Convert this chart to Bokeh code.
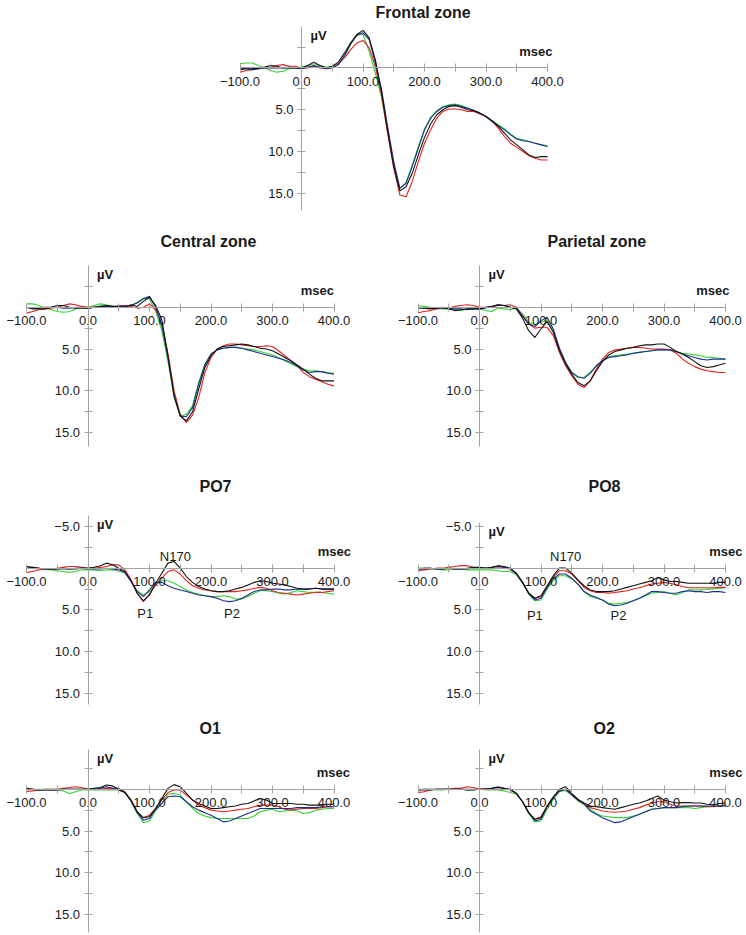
from bokeh.plotting import figure
from bokeh.models import Range1d, FixedTicker, Label, LinearAxis, CustomJSTickFormatter, Grid
from bokeh.layouts import column, row
from bokeh.embed import file_html
from bokeh.resources import INLINE

# ---------------- data ----------------
TIME_MS = list(range(-100, 410, 10))   # -100 ... 400 ms, 51 samples

FRONTAL_BLACK = [0.2, 0.1, 0.1, 0.0, -0.1, -0.3, -0.2, 0.0, 0.0, 0.0,
                 0.0, -0.3, -0.7, -0.3, 0.0, -0.2, -0.7, -1.8, -3.0, -4.0,
                 -4.5, -3.6, -1.0, 2.8, 7.5, 11.8, 14.7, 14.2, 12.6, 10.4,
                 8.3, 6.7, 5.6, 5.0, 4.6, 4.5, 4.7, 5.0, 5.1, 5.4,
                 5.8, 6.3, 7.0, 7.8, 8.6, 9.2, 9.8, 10.4, 10.7, 10.6, 10.6]
FRONTAL_RED = [0.5, 0.3, 0.2, 0.1, 0.0, -0.1, -0.3, -0.4, -0.2, -0.2,
               0.0, 0.0, -0.2, 0.0, 0.0, -0.1, -0.5, -1.2, -2.2, -3.0,
               -3.3, -2.4, -0.2, 3.2, 7.8, 12.0, 15.2, 15.4, 13.6, 11.2,
               9.0, 7.4, 6.0, 5.2, 4.9, 4.9, 5.0, 5.2, 5.2, 5.5,
               5.8, 6.4, 7.2, 8.2, 9.0, 9.5, 10.0, 10.5, 10.8, 11.0, 11.0]
FRONTAL_GREEN = [-0.5, -0.6, -0.6, -0.3, 0.0, 0.3, 0.5, 0.4, 0.1, 0.0,
                 -0.1, -0.3, -0.5, -0.3, -0.1, -0.2, -0.4, -1.4, -2.8, -4.0,
                 -4.0, -2.0, 0.6, 3.5, 7.6, 11.6, 14.4, 13.7, 11.6, 9.4,
                 7.3, 5.9, 5.1, 4.6, 4.4, 4.3, 4.5, 4.8, 5.1, 5.4,
                 5.8, 6.3, 6.8, 7.3, 7.9, 8.4, 8.6, 8.8, 9.0, 9.2, 9.3]
FRONTAL_BLUE = [0.0, 0.1, 0.2, 0.1, 0.0, 0.0, 0.0, 0.0, -0.1, 0.0,
                0.1, -0.1, -0.3, -0.1, 0.1, 0.0, -0.4, -1.5, -2.9, -3.9,
                -4.2, -3.4, -0.6, 2.5, 7.0, 11.2, 14.4, 13.8, 11.8, 9.6,
                7.4, 6.0, 5.2, 4.7, 4.5, 4.4, 4.6, 4.8, 5.1, 5.4,
                5.8, 6.4, 6.9, 7.4, 8.0, 8.5, 8.7, 8.8, 9.0, 9.2, 9.4]

CENTRAL_BLACK = [0.0, 0.2, 0.2, 0.2, 0.0, -0.2, -0.2, 0.0, 0.1, 0.1,
                 0.1, 0.0, -0.1, -0.2, -0.1, 0.0, 0.0, -0.3, -0.1, -0.7,
                 -1.2, -0.2, 1.5, 5.8, 10.6, 13.0, 13.6, 12.5, 9.8, 7.2,
                 5.8, 5.0, 4.7, 4.6, 4.5, 4.4, 4.5, 4.7, 4.9, 5.0,
                 5.2, 5.6, 6.0, 6.4, 6.9, 7.4, 8.0, 8.5, 8.8, 8.8, 8.8]
CENTRAL_RED = [0.7, 0.5, 0.3, 0.2, 0.1, 0.0, -0.2, -0.4, -0.3, -0.1,
               0.0, 0.0, 0.0, 0.0, 0.0, -0.2, -0.2, -0.1, 0.1, 0.0,
               -0.4, 0.3, 1.9, 5.5, 10.0, 12.8, 13.8, 12.9, 10.8, 7.8,
               6.0, 5.0, 4.6, 4.4, 4.4, 4.5, 4.6, 4.7, 4.7, 4.6,
               4.7, 5.2, 5.8, 6.4, 7.0, 7.8, 8.3, 8.6, 8.9, 9.2, 9.4]
CENTRAL_GREEN = [-0.4, -0.4, -0.2, 0.1, 0.3, 0.5, 0.6, 0.5, 0.2, 0.0,
                 0.0, -0.2, -0.4, -0.3, -0.1, -0.1, -0.2, -0.2, -0.6, -1.1,
                 -1.0, 0.5, 2.8, 6.5, 10.8, 13.0, 12.8, 11.8, 9.0, 6.8,
                 5.6, 5.1, 4.9, 4.8, 4.8, 4.9, 5.0, 5.1, 5.3, 5.5,
                 5.7, 6.0, 6.4, 6.8, 7.1, 7.4, 7.6, 7.6, 7.7, 7.8, 7.9]
CENTRAL_BLUE = [0.0, 0.1, 0.1, 0.0, 0.0, 0.0, 0.1, 0.1, 0.0, 0.0,
                0.1, 0.0, -0.1, -0.1, -0.1, -0.1, -0.1, -0.2, -0.5, -1.0,
                -1.3, 0.0, 2.2, 6.0, 10.5, 13.0, 13.1, 12.0, 9.2, 6.9,
                5.6, 5.1, 4.9, 4.8, 4.8, 4.9, 5.1, 5.3, 5.5, 5.7,
                5.9, 6.1, 6.3, 6.6, 7.0, 7.5, 7.8, 7.7, 7.7, 7.9, 8.0]

PARIETAL_BLACK = [0.0, 0.1, 0.2, 0.1, 0.0, 0.2, 0.4, 0.3, 0.2, 0.2,
                  0.2, 0.0, -0.1, -0.3, -0.2, 0.0, 0.2, 1.3, 2.8, 3.6,
                  2.6, 1.7, 3.0, 5.2, 6.8, 8.0, 9.0, 9.4, 8.8, 7.6,
                  6.5, 5.7, 5.3, 5.1, 4.9, 4.8, 4.6, 4.5, 4.5, 4.4,
                  4.4, 4.8, 5.3, 5.6, 6.0, 6.5, 7.0, 7.2, 7.1, 6.9, 6.7]
PARIETAL_RED = [0.65, 0.5, 0.4, 0.2, 0.1, 0.1, -0.1, -0.2, -0.3, -0.2,
                0.0, 0.0, 0.0, -0.2, -0.2, -0.3, 0.0, 1.0, 2.0, 2.5,
                2.4, 2.4, 3.4, 5.4, 7.0, 8.2, 9.2, 9.6, 8.8, 7.4,
                6.2, 5.4, 5.1, 5.0, 4.9, 4.8, 4.8, 4.9, 5.0, 5.0,
                5.0, 5.1, 5.5, 6.2, 6.7, 7.1, 7.4, 7.6, 7.7, 7.8, 7.8]
PARIETAL_GREEN = [-0.2, -0.1, 0.0, 0.1, 0.2, 0.2, 0.3, 0.4, 0.2, 0.1,
                  0.2, 0.4, 0.5, 0.1, 0.2, 0.3, 0.1, 0.8, 1.8, 2.1,
                  1.8, 1.5, 2.8, 5.0, 6.6, 7.8, 8.4, 8.4, 7.8, 7.0,
                  6.4, 5.9, 5.8, 5.7, 5.6, 5.5, 5.4, 5.3, 5.2, 5.1,
                  5.1, 5.1, 5.3, 5.5, 5.6, 5.7, 5.8, 6.0, 6.0, 6.1, 6.2]
PARIETAL_BLUE = [0.1, 0.1, 0.1, 0.1, 0.1, 0.1, 0.2, 0.2, 0.3, 0.2,
                 0.2, 0.1, -0.1, -0.3, -0.2, 0.0, 0.1, 1.1, 2.0, 2.3,
                 1.6, 1.2, 2.6, 4.9, 6.6, 7.8, 8.3, 8.5, 7.9, 7.0,
                 6.4, 6.0, 5.9, 5.8, 5.7, 5.5, 5.4, 5.3, 5.2, 5.1,
                 5.1, 5.1, 5.3, 5.6, 5.8, 6.0, 6.2, 6.3, 6.2, 6.2, 6.2]

PO7_BLACK = [-0.2, -0.1, 0.0, 0.1, 0.1, 0.1, 0.0, 0.1, 0.1, 0.0,
             0.0, -0.1, -0.3, -0.6, -0.4, 0.0, 0.4, 1.5, 3.0, 3.9,
             3.2, 1.8, 0.6, -0.6, -0.8, 0.0, 1.0, 1.7, 2.2, 2.5,
             2.7, 2.8, 2.8, 2.7, 2.5, 2.3, 2.0, 1.7, 1.5, 1.6,
             1.8, 1.9, 2.0, 2.2, 2.4, 2.5, 2.5, 2.4, 2.5, 2.5, 2.5]
PO7_RED = [0.5, 0.4, 0.2, 0.1, 0.1, 0.0, -0.1, -0.2, -0.2, -0.1,
           0.0, 0.0, -0.1, -0.2, -0.4, -0.4, 0.2, 1.4, 3.0, 4.0,
           3.1, 2.0, 1.2, 0.4, 0.2, 0.7, 1.5, 2.1, 2.4, 2.6,
           2.7, 2.8, 2.8, 2.8, 2.8, 2.7, 2.6, 2.4, 2.3, 2.4,
           2.7, 2.9, 3.0, 3.1, 3.2, 3.1, 3.0, 2.9, 2.9, 2.8, 2.7]
PO7_GREEN = [-0.2, 0.0, 0.0, 0.1, 0.2, 0.3, 0.4, 0.5, 0.4, 0.2,
             0.2, 0.2, 0.3, 0.2, 0.2, 0.3, 0.6, 1.5, 2.7, 3.2,
             2.8, 2.0, 1.5, 1.5, 1.8, 2.2, 2.6, 2.9, 3.1, 3.3,
             3.4, 3.4, 3.3, 3.4, 3.7, 3.7, 3.4, 3.0, 2.7, 2.7,
             2.8, 3.0, 3.1, 2.9, 2.7, 2.8, 2.9, 2.9, 2.9, 3.0, 3.1]
PO7_BLUE = [0.0, -0.1, 0.0, 0.1, 0.1, 0.1, 0.1, 0.1, 0.0, 0.0,
            0.1, 0.1, 0.1, 0.0, 0.1, 0.2, 0.5, 1.6, 2.8, 3.4,
            2.6, 1.7, 1.7, 2.1, 2.4, 2.6, 2.8, 3.0, 3.2, 3.3,
            3.4, 3.6, 3.9, 4.0, 3.9, 3.6, 3.2, 2.8, 2.6, 2.6,
            2.5, 2.5, 2.6, 2.6, 2.5, 2.5, 2.5, 2.4, 2.5, 2.5, 2.5]

PO8_BLACK = [0.1, 0.1, 0.0, 0.1, 0.1, 0.0, 0.1, 0.1, 0.0, -0.1,
             -0.1, 0.0, -0.1, -0.3, -0.2, 0.0, 0.6, 1.7, 3.0, 3.6,
             3.3, 2.1, 0.9, 0.0, 0.0, 0.6, 1.4, 2.1, 2.6, 2.8,
             2.8, 2.8, 2.7, 2.5, 2.3, 2.1, 1.9, 1.7, 1.5, 1.1,
             1.4, 1.6, 1.6, 1.7, 1.8, 1.8, 1.8, 1.8, 1.8, 1.7, 1.7]
PO8_RED = [0.3, 0.2, 0.1, 0.0, 0.0, -0.1, -0.2, -0.3, -0.3, -0.1,
           0.0, 0.0, 0.0, 0.0, 0.0, 0.1, 0.6, 1.7, 3.0, 3.6,
           3.4, 2.2, 1.1, 0.3, 0.3, 0.7, 1.5, 2.3, 2.7, 2.9,
           2.9, 3.0, 2.9, 2.8, 2.7, 2.5, 2.35, 2.1, 1.9, 1.8,
           1.7, 1.8, 2.0, 2.2, 2.35, 2.35, 2.35, 2.35, 2.35, 2.3, 2.3]
PO8_GREEN = [0.0, 0.0, 0.1, 0.1, 0.2, 0.2, 0.1, 0.1, 0.2, 0.2,
             0.2, 0.2, 0.2, 0.3, 0.4, 0.4, 0.8, 1.8, 3.1, 3.9,
             3.8, 2.5, 1.5, 0.9, 0.9, 1.3, 1.9, 2.8, 3.4, 3.6,
             3.8, 4.2, 4.3, 4.2, 4.1, 3.9, 3.6, 3.3, 3.0, 2.9,
             2.8, 3.0, 3.2, 2.9, 2.6, 2.6, 2.6, 2.5, 2.5, 2.4, 2.35]
PO8_BLUE = [0.1, 0.0, 0.0, 0.1, 0.1, 0.0, 0.1, 0.1, 0.1, 0.0,
            0.0, 0.0, -0.1, -0.2, -0.1, 0.1, 0.7, 1.7, 3.0, 3.8,
            3.6, 2.3, 1.3, 0.7, 0.7, 1.2, 1.9, 2.8, 3.2, 3.5,
            3.8, 4.3, 4.5, 4.4, 4.2, 3.9, 3.6, 3.2, 2.8, 2.8,
            2.9, 3.0, 3.0, 2.8, 2.7, 2.8, 2.8, 2.9, 2.8, 2.8, 2.9]

O1_BLACK = [-0.1, 0.0, 0.1, 0.1, 0.1, 0.1, 0.0, 0.0, 0.0, 0.0,
            0.0, -0.1, -0.2, -0.5, -0.4, 0.0, 0.4, 1.3, 2.7, 3.4,
            3.3, 2.3, 1.1, -0.1, -0.55, -0.3, 0.5, 1.3, 1.7, 2.0,
            2.3, 2.3, 2.2, 2.1, 2.0, 1.8, 1.7, 1.4, 1.1, 1.3,
            1.7, 1.7, 1.7, 1.7, 1.8, 1.8, 1.9, 1.9, 1.9, 1.8, 1.8]
O1_RED = [0.25, 0.2, 0.1, 0.0, 0.0, 0.0, -0.1, -0.2, -0.3, -0.2,
          0.0, 0.0, 0.0, -0.1, -0.1, -0.1, 0.3, 1.3, 2.7, 3.4,
          3.1, 2.3, 1.3, 0.4, 0.1, 0.1, 0.7, 1.3, 1.9, 2.2,
          2.5, 2.6, 2.7, 2.6, 2.5, 2.4, 2.3, 2.1, 1.9, 1.9,
          1.9, 2.1, 2.4, 2.5, 2.4, 2.3, 2.3, 2.3, 2.2, 2.1, 2.1]
O1_GREEN = [-0.1, 0.0, 0.0, 0.0, 0.0, 0.0, 0.2, 0.5, 0.3, 0.1,
            0.1, 0.1, 0.1, 0.1, 0.1, 0.1, 0.4, 1.4, 2.9, 4.0,
            3.8, 2.6, 1.7, 0.6, 0.5, 0.7, 1.5, 2.3, 2.9, 3.2,
            3.4, 3.5, 3.5, 3.5, 3.5, 3.5, 3.5, 3.2, 2.7, 2.5,
            2.4, 2.7, 2.6, 2.5, 2.6, 2.9, 2.8, 2.5, 2.4, 2.3, 2.3]
O1_BLUE = [0.0, 0.0, 0.1, 0.1, 0.1, 0.1, 0.0, 0.0, 0.0, 0.0,
           0.0, 0.0, -0.1, -0.3, -0.1, 0.1, 0.4, 1.4, 2.8, 3.7,
           3.5, 2.4, 1.7, 0.9, 0.8, 0.9, 1.5, 2.1, 2.5, 2.8,
           3.1, 3.5, 3.9, 3.8, 3.5, 3.2, 2.9, 2.6, 2.3, 2.3,
           2.3, 2.3, 2.3, 2.3, 2.2, 2.2, 2.2, 2.2, 2.1, 2.1, 2.1]

O2_BLACK = [0.1, 0.1, 0.1, 0.0, 0.0, 0.0, 0.0, 0.0, 0.1, 0.1,
            0.0, 0.0, -0.1, -0.2, -0.1, 0.0, 0.5, 1.5, 2.8, 3.6,
            3.4, 2.0, 0.9, 0.0, -0.3, 0.5, 1.2, 1.65, 2.0, 2.1,
            2.2, 2.3, 2.4, 2.2, 2.0, 1.8, 1.65, 1.4, 1.1, 0.8,
            1.3, 1.5, 1.65, 1.6, 1.6, 1.65, 1.65, 1.8, 1.85, 1.7, 1.65]
O2_RED = [0.4, 0.3, 0.1, 0.0, 0.0, 0.0, -0.1, -0.1, -0.3, -0.2,
          0.0, -0.1, 0.0, 0.0, 0.0, 0.0, 0.5, 1.5, 2.8, 3.6,
          3.3, 2.0, 1.0, 0.2, 0.0, 0.55, 1.3, 1.75, 2.2, 2.4,
          2.6, 2.7, 2.75, 2.7, 2.6, 2.4, 2.2, 1.9, 1.65, 1.5,
          1.5, 1.8, 2.0, 2.0, 2.0, 2.0, 2.0, 2.1, 2.1, 2.0, 1.9]
O2_GREEN = [0.0, 0.0, 0.0, 0.1, 0.1, 0.0, 0.0, 0.0, 0.1, 0.1,
            0.0, 0.1, 0.1, 0.1, 0.2, 0.4, 0.6, 1.5, 2.9, 3.9,
            3.8, 2.4, 1.2, 0.3, 0.15, 0.7, 1.4, 1.85, 2.4, 2.9,
            3.2, 3.3, 3.4, 3.4, 3.4, 3.2, 3.0, 2.7, 2.4, 2.3,
            2.2, 2.2, 2.2, 2.2, 2.2, 2.3, 2.2, 2.1, 2.0, 2.0, 2.0]
O2_BLUE = [0.1, 0.0, 0.0, 0.0, 0.0, 0.0, 0.0, 0.0, 0.0, 0.0,
           0.0, 0.0, -0.1, -0.3, -0.1, 0.1, 0.5, 1.5, 2.8, 3.8,
           3.6, 2.1, 1.0, 0.2, 0.0, 0.7, 1.3, 1.75, 2.6, 3.0,
           3.4, 3.7, 4.0, 3.9, 3.6, 3.3, 3.0, 2.7, 2.4, 2.3,
           2.2, 2.2, 2.2, 2.1, 2.0, 2.0, 2.0, 2.0, 2.0, 2.0, 2.0]

X_TICKS = [-100, 0, 100, 200, 300, 400]
X_MINOR_TICKS = [-50, 50, 150, 250, 350]
Y_TICKS = [5, 10, 15]
Y_TICKS_PO = [-5, 5, 10, 15]
Y_MINOR_TICKS = [-2.5, 2.5, 7.5, 12.5]

# component labels (text, ms, µV)
PO7_NOTES = [("N170", 142, -1.45), ("P1", 93, 5.4), ("P2", 234, 5.4)]
PO8_NOTES = [("N170", 140, -1.45), ("P1", 90, 5.7), ("P2", 226, 5.7)]

# ---------------- styling / layout ----------------
SERIES_ORDER = [("green", "#33d433"), ("red", "#e5221e"), ("blue", "#1f2c93"), ("black", "#111111")]
AXIS_COLOR = "#a3a3a3"
TEXT_COLOR = "#1a1a1a"
FONT = "Liberation Sans"
PX_PER_MS = 0.615
PX_PER_UV = 8.4
TITLE_H = 20

minus_fmt = CustomJSTickFormatter(code="""
    return (tick < 0 ? "\\u2212" : "") + Math.abs(tick).toFixed(1);
""")


def make_panel(title, series, left, right, zero_x, top, bottom, zero_y,
               title_left, y_top, y_bottom, y_ticks, msec_dx, notes=()):
    w = right - left
    h = bottom - top
    x0 = (left - zero_x) / PX_PER_MS
    x1 = (right - zero_x) / PX_PER_MS
    frame_top = top + TITLE_H
    yt = (frame_top - zero_y) / PX_PER_UV
    yb = (bottom - zero_y) / PX_PER_UV
    p = figure(width=w, height=h, x_range=Range1d(x0, x1), y_range=Range1d(yb, yt),
               x_axis_location=None, y_axis_location=None, toolbar_location=None,
               output_backend="svg", min_border=0, title=title)
    p.center = [r for r in p.center if not isinstance(r, Grid)]
    p.outline_line_color = None
    p.background_fill_color = "white"
    p.border_fill_color = "white"
    p.title.align = "left"
    p.title.offset = title_left - left
    p.title.text_font = FONT
    p.title.text_font_size = "16px"
    p.title.text_font_style = "bold"
    p.title.text_color = TEXT_COLOR
    p.title.standoff = 2

    xaxis = LinearAxis(fixed_location=0, bounds=(-100, 400),
                       ticker=FixedTicker(ticks=X_TICKS, minor_ticks=X_MINOR_TICKS),
                       formatter=minus_fmt)
    yaxis = LinearAxis(fixed_location=0, bounds=(y_top, y_bottom),
                       ticker=FixedTicker(ticks=y_ticks, minor_ticks=Y_MINOR_TICKS),
                       formatter=minus_fmt)
    for ax in (xaxis, yaxis):
        ax.axis_line_color = AXIS_COLOR
        ax.major_tick_line_color = AXIS_COLOR
        ax.minor_tick_line_color = AXIS_COLOR
        ax.major_tick_in = 4
        ax.major_tick_out = 4
        ax.minor_tick_in = 4
        ax.minor_tick_out = 4
        ax.major_label_text_font = FONT
        ax.major_label_text_font_size = "13px"
        ax.major_label_text_color = TEXT_COLOR
    xaxis.major_label_standoff = 5
    yaxis.major_label_standoff = 4
    p.add_layout(xaxis, "below")
    p.add_layout(yaxis, "left")

    for key, color in SERIES_ORDER:
        p.line(TIME_MS, series[key], line_color=color, line_width=1.1)

    p.add_layout(Label(x=0, y=y_top, text="µV", x_offset=9, y_offset=-2,
                       text_baseline="top", text_font=FONT, text_font_size="13px",
                       text_font_style="bold", text_color=TEXT_COLOR))
    p.add_layout(Label(x=400, y=0, text="msec", x_offset=msec_dx, y_offset=9,
                       text_align="right", text_baseline="bottom", text_font=FONT,
                       text_font_size="13px", text_font_style="bold", text_color=TEXT_COLOR))
    for txt, tx, ty in notes:
        p.add_layout(Label(x=tx, y=ty, text=txt, text_align="center", text_baseline="middle",
                           text_font=FONT, text_font_size="13px", text_color=TEXT_COLOR))
    return p


# column geometry (page px; the page template has no body margin)
L_LEFT, L_RIGHT, L_ZERO = 0, 373, 87.5
R_LEFT, R_RIGHT, R_ZERO = 373, 746, 479
# rows: (top, bottom, zero_y)
ROW1 = (0, 229, 66.7)
ROW2 = (229, 474, 306)
ROW3 = (474, 716, 567)
ROW4 = (716, 934, 788)

frontal = make_panel("Frontal zone",
                     dict(black=FRONTAL_BLACK, red=FRONTAL_RED, green=FRONTAL_GREEN, blue=FRONTAL_BLUE),
                     0, 746, 301, *ROW1, 375, -5, 17, Y_TICKS, 5)
central = make_panel("Central zone",
                     dict(black=CENTRAL_BLACK, red=CENTRAL_RED, green=CENTRAL_GREEN, blue=CENTRAL_BLUE),
                     L_LEFT, L_RIGHT, L_ZERO, *ROW2, 160, -5, 16.7, Y_TICKS, 0)
parietal = make_panel("Parietal zone",
                      dict(black=PARIETAL_BLACK, red=PARIETAL_RED, green=PARIETAL_GREEN, blue=PARIETAL_BLUE),
                      R_LEFT, R_RIGHT, R_ZERO, *ROW2, 547, -5, 16.7, Y_TICKS, 4)
po7 = make_panel("PO7", dict(black=PO7_BLACK, red=PO7_RED, green=PO7_GREEN, blue=PO7_BLUE),
                 L_LEFT, L_RIGHT, L_ZERO, *ROW3, 199, -6.3, 16.3, Y_TICKS_PO, 17, PO7_NOTES)
po8 = make_panel("PO8", dict(black=PO8_BLACK, red=PO8_RED, green=PO8_GREEN, blue=PO8_BLUE),
                 R_LEFT, R_RIGHT, R_ZERO, *ROW3, 588, -5.5, 16.3, Y_TICKS_PO, 17, PO8_NOTES)
o1 = make_panel("O1", dict(black=O1_BLACK, red=O1_RED, green=O1_GREEN, blue=O1_BLUE),
                L_LEFT, L_RIGHT, L_ZERO, *ROW4, 199, -4.8, 17.2, Y_TICKS, 16)
o2 = make_panel("O2", dict(black=O2_BLACK, red=O2_RED, green=O2_GREEN, blue=O2_BLUE),
                R_LEFT, R_RIGHT, R_ZERO, *ROW4, 593, -4.8, 17.2, Y_TICKS, 17)

layout = column(frontal, row(central, parietal), row(po7, po8), row(o1, o2))

with open("out.html", "w") as f:
    f.write(file_html(layout, INLINE, title="ERP zones"))
